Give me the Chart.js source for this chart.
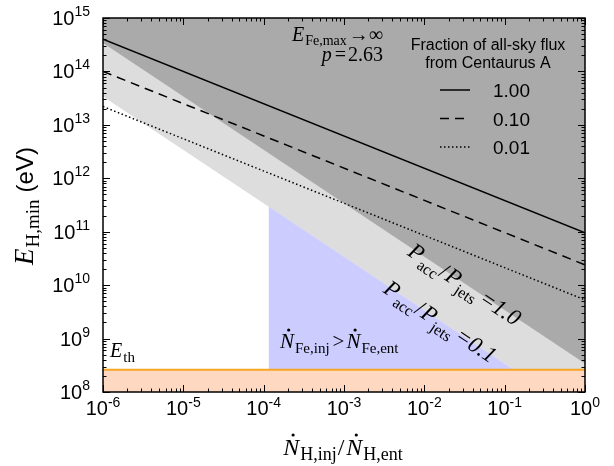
<!DOCTYPE html>
<html>
<head>
<meta charset="utf-8">
<script src="https://cdn.jsdelivr.net/npm/chart.js@4.4.1/dist/chart.umd.min.js"></script>
<style>
  html, body { margin: 0; padding: 0; background: #fff; }
  #wrap { width: 614px; height: 466px; }
</style>
</head>
<body>
<div id="wrap"><canvas id="chart"></canvas></div>
<script>
// x range of the plot (N_H,inj / N_H,ent)
const xEnds = [1e-6, 1];

// fraction-of-flux lines, E_H,min at the two x ends
const fluxLabels = ["1.00", "0.10", "0.01"];
const fluxSolid = [4.0e14, 9.5e10];
const fluxDashed = [1.0e14, 2.4e10];
const fluxDotted = [2.2e13, 5.3e9];

// P_acc/P_jets boundaries
const accOneX = [1e-6, 1];
const accOneE = [3.4e14, 3.4e8];
const accTenthX = [1e-6, 0.13, 1];
const accTenthE = [3.4e13, 2.6e8, 2.6e8];

// N_Fe,inj > N_Fe,ent region (under the 0.1 boundary)
const blueX = [1.15e-4, 0.13];
const blueE = [2.95e11, 2.6e8];

// threshold energy
const eth = 2.6e8;

const xDecades = [-6, -5, -4, -3, -2, -1, 0];
const yDecades = [8, 9, 10, 11, 12, 13, 14, 15];

const SANS = "'Liberation Sans', Arial, sans-serif";
const SERIF = "'Liberation Serif', 'DejaVu Serif', serif";

const pts = (xs, ys) => xs.map((x, i) => ({ x, y: ys[i] }));

function rich(ctx, parts, x, y, align) {
  let w = 0;
  parts.forEach((p) => {
    ctx.font = p.font;
    p.w = ctx.measureText(p.t).width;
    w += p.w + (p.gap || 0);
  });
  let cx = align === "center" ? x - w / 2 : align === "right" ? x - w : x;
  parts.forEach((p) => {
    ctx.font = p.font;
    ctx.fillText(p.t, cx, y + (p.dy || 0));
    if (p.dot) {
      ctx.beginPath();
      ctx.arc(cx + p.w * 0.62, y - p.dot, 1.6, 0, Math.PI * 2);
      ctx.fill();
    }
    cx += p.w + (p.gap || 0);
  });
}

const decor = {
  id: "decor",
  afterDraw(chart) {
    const { ctx, chartArea: a, scales: { x, y } } = chart;
    ctx.save();
    ctx.strokeStyle = "#000";
    ctx.fillStyle = "#000";

    // tick marks, inside, all four sides
    ctx.lineWidth = 1;
    const seg = (x1, y1, x2, y2) => { ctx.beginPath(); ctx.moveTo(x1, y1); ctx.lineTo(x2, y2); ctx.stroke(); };
    xDecades.forEach((d) => {
      for (let m = 1; m <= 9; m++) {
        if (d === 0 && m > 1) break;
        const px = Math.round(x.getPixelForValue(m * Math.pow(10, d))) + 0.5;
        const len = m === 1 ? 7 : 3.5;
        seg(px, a.bottom, px, a.bottom - len);
        seg(px, a.top, px, a.top + len);
      }
    });
    yDecades.forEach((d) => {
      for (let m = 1; m <= 9; m++) {
        if (d === 15 && m > 1) break;
        const py = Math.round(y.getPixelForValue(m * Math.pow(10, d))) + 0.5;
        const len = m === 1 ? 7 : 3.5;
        seg(a.left, py, a.left + len, py);
        seg(a.right, py, a.right - len, py);
      }
    });

    // frame
    ctx.lineWidth = 1.5;
    ctx.strokeRect(a.left, a.top, a.right - a.left, a.bottom - a.top);

    // tick labels
    ctx.textBaseline = "alphabetic";
    xDecades.forEach((d) => {
      const px = x.getPixelForValue(Math.pow(10, d));
      rich(ctx, [
        { t: "10", font: `20px ${SANS}` },
        { t: d < 0 ? "-" + (-d) : String(d), font: `14px ${SANS}`, dy: -8 },
      ], px, a.bottom + 23, "center");
    });
    yDecades.forEach((d) => {
      const py = y.getPixelForValue(Math.pow(10, d));
      rich(ctx, [
        { t: "10", font: `20px ${SANS}` },
        { t: String(d), font: `14px ${SANS}`, dy: -9 },
      ], a.left - 13, py + 7, "right");
    });

    // axis titles
    rich(ctx, [
      { t: "N", font: `italic 24px ${SERIF}`, dot: 20, gap: 1 },
      { t: "H,inj", font: `18px ${SERIF}`, dy: 5, gap: 1 },
      { t: "/", font: `24px ${SERIF}`, gap: 2 },
      { t: "N", font: `italic 24px ${SERIF}`, dot: 20, gap: 1 },
      { t: "H,ent", font: `18px ${SERIF}`, dy: 5 },
    ], (a.left + a.right) / 2 - 1, 455, "center");

    ctx.save();
    ctx.translate(33, (a.top + a.bottom) / 2 + 1);
    ctx.rotate(-Math.PI / 2);
    rich(ctx, [
      { t: "E", font: `italic 27px ${SERIF}`, gap: 1 },
      { t: "H,min", font: `19px ${SERIF}`, dy: 6, gap: 7 },
      { t: "(eV)", font: `24px ${SANS}` },
    ], 0, 0, "center");
    ctx.restore();

    // clipped annotations inside the plot
    ctx.save();
    ctx.beginPath();
    ctx.rect(a.left, a.top, a.right - a.left, a.bottom - a.top);
    ctx.clip();

    rich(ctx, [
      { t: "E", font: `italic 20px ${SERIF}`, gap: 1 },
      { t: "Fe,max", font: `14px ${SERIF}`, dy: 4, gap: 2 },
      { t: "\u2192\u221E", font: `20px ${SERIF}` },
    ], a.left + 280, a.top + 23, "right");
    rich(ctx, [
      { t: "p", font: `italic 20px ${SERIF}`, gap: 3 },
      { t: "=", font: `20px ${SERIF}`, gap: 2 },
      { t: "2.63", font: `20px ${SERIF}` },
    ], a.left + 280, a.top + 43, "right");

    rich(ctx, [{ t: "Fraction of all-sky flux", font: `16px ${SANS}` }], a.right - 97, a.top + 32, "center");
    rich(ctx, [{ t: "from Centaurus A", font: `16px ${SANS}` }], a.right - 97, a.top + 50, "center");

    const dashes = [[], [9, 6], [1.5, 2.5]];
    fluxLabels.forEach((lab, i) => {
      const by = a.top + 79 + i * 28.5;
      ctx.save();
      ctx.lineWidth = 1.5;
      ctx.setLineDash(dashes[i]);
      seg(a.left + 337, by - 7, a.left + 367, by - 7);
      ctx.restore();
      rich(ctx, [{ t: lab, font: `19px ${SANS}` }], a.left + 390, by, "left");
    });

    rich(ctx, [
      { t: "N", font: `italic 21px ${SERIF}`, dot: 18, gap: 1 },
      { t: "Fe,inj", font: `15px ${SERIF}`, dy: 5, gap: 3 },
      { t: ">", font: `21px ${SERIF}`, gap: 2 },
      { t: "N", font: `italic 21px ${SERIF}`, dot: 18, gap: 1 },
      { t: "Fe,ent", font: `15px ${SERIF}`, dy: 5 },
    ], a.left + 177, a.bottom - 44, "left");

    rich(ctx, [
      { t: "E", font: `italic 20px ${SERIF}`, gap: 1 },
      { t: "th", font: `15px ${SERIF}`, dy: 5 },
    ], a.left + 7, a.bottom - 35, "left");

    // rotated P_acc/P_jets labels following the boundaries
    const ang = Math.atan2(
      y.getPixelForValue(accOneE[1]) - y.getPixelForValue(accOneE[0]),
      x.getPixelForValue(accOneX[1]) - x.getPixelForValue(accOneX[0])
    );
    const accLabel = (xv, ev, val) => {
      ctx.save();
      ctx.translate(x.getPixelForValue(xv), y.getPixelForValue(ev));
      ctx.rotate(ang);
      rich(ctx, [
        { t: "P", font: `italic 23px ${SERIF}`, gap: 1 },
        { t: "acc", font: `16px ${SERIF}`, dy: 6, gap: 1 },
        { t: "/", font: `23px ${SERIF}`, gap: 1 },
        { t: "P", font: `italic 23px ${SERIF}`, gap: 1 },
        { t: "jets", font: `16px ${SERIF}`, dy: 6, gap: 5 },
        { t: "=", font: `23px ${SERIF}`, gap: 1 },
        { t: val, font: `italic 23px ${SERIF}` },
      ], 0, 8, "left");
      ctx.restore();
    };
    accLabel(6.8e-3, 3.4e8 / 6.8e-3, "1.0");
    accLabel(3.4e-3, 3.4e7 / 3.4e-3, "0.1");
    ctx.restore();

    ctx.restore();
  },
};

const noPts = { pointRadius: 0, pointHoverRadius: 0, tension: 0 };

new Chart(document.getElementById("chart").getContext("2d"), {
  type: "line",
  data: {
    datasets: [
      { data: pts(xEnds, fluxSolid), borderColor: "#000", borderWidth: 1.5, fill: false, order: 1, ...noPts },
      { data: pts(xEnds, fluxDashed), borderColor: "#000", borderWidth: 1.5, borderDash: [9, 6], fill: false, order: 1, ...noPts },
      { data: pts(xEnds, fluxDotted), borderColor: "#000", borderWidth: 1.5, borderDash: [1.5, 2.5], fill: false, order: 1, ...noPts },
      { data: pts(xEnds, [eth, eth]), borderColor: "#f5a623", borderWidth: 2, backgroundColor: "#ffd8c2", fill: "start", order: 3, ...noPts },
      { data: pts(blueX, blueE), borderWidth: 0, backgroundColor: "#ccccff", fill: { value: eth }, order: 4, ...noPts },
      { data: pts(accOneX, accOneE), borderWidth: 0, backgroundColor: "#aaaaaa", fill: "end", order: 5, ...noPts },
      { data: pts(accTenthX, accTenthE), borderWidth: 0, backgroundColor: "#dddddd", fill: "end", order: 6, ...noPts },
    ],
  },
  options: {
    responsive: true,
    maintainAspectRatio: false,
    animation: false,
    layout: { padding: { left: 103, right: 29, top: 18, bottom: 74 } },
    scales: {
      x: { type: "logarithmic", min: 1e-6, max: 1, display: false },
      y: { type: "logarithmic", min: 1e8, max: 1e15, display: false },
    },
    plugins: { legend: { display: false }, tooltip: { enabled: false } },
  },
  plugins: [decor],
});
</script>
</body>
</html>
